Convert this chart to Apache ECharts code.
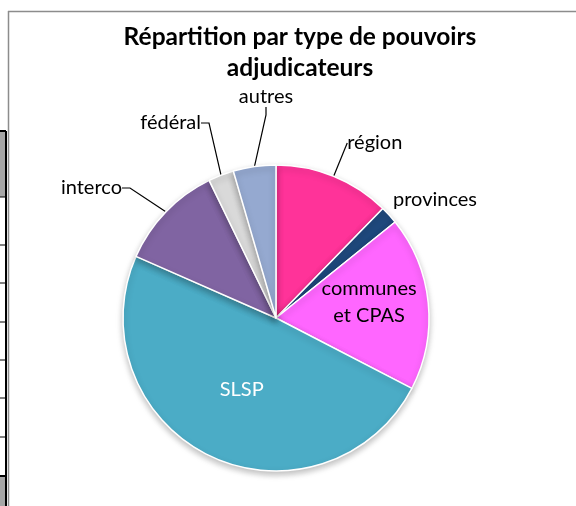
<!DOCTYPE html>
<html>
<head>
  <meta charset="utf-8">
  <title>Répartition par type de pouvoirs adjudicateurs</title>
  <style>
    html, body { margin: 0; padding: 0; background: #fff; }
    #chart { width: 576px; height: 506px; }
  </style>
</head>
<body>
  <div id="chart"></div>
  <script src="https://cdn.jsdelivr.net/npm/echarts@6/dist/echarts.min.js"></script>
  <script>
// données (en %)
var categories = ['région', 'provinces', 'communes\net CPAS', 'SLSP', 'interco', 'fédéral', 'autres'];
var values = [12.3, 1.9, 18.4, 49.0, 11.2, 2.7, 4.5];
var colors = ['#FF3399', '#1F497D', '#FF66FF', '#4BACC6', '#8064A2', '#D9D9D9', '#95A9D0'];
// étiquettes à l'intérieur des parts
var insideLabels = { 'communes\net CPAS': '#000000', 'SLSP': '#FFFFFF' };
// emplacement des étiquettes extérieures (comme dans Excel)
var labelPlaces = {
  1: { x: 393, y: 200, align: 'left' },
  4: { x: 122, y: 188, align: 'right' },
  5: { x: 201, y: 123, align: 'right' },
  6: { x: 266, y: 97, align: 'center' }
};

var dom = document.getElementById('chart');
var myChart = echarts.init(dom);

var pieData = categories.map(function (name, i) {
  var item = { name: name, value: values[i], itemStyle: { color: colors[i] } };
  if (insideLabels[name]) {
    item.label = { position: 'inside', color: insideLabels[name], lineHeight: 27 };
    item.labelLine = { show: false };
  }
  if (name === 'provinces') {
    item.labelLine = { show: false };
  }
  if (name === 'région') {
    // placement standard, trait oblique seul
    item.label = { distanceToLabelLine: 0 };
    item.labelLine = { length: 36, length2: 0 };
  }
  return item;
});

var option = {
  animation: false,
  title: {
    text: 'Répartition par type de pouvoirs\nadjudicateurs',
    left: 295,
    textAlign: 'center',
    top: 17,
    textStyle: {
      fontFamily: 'Lato',
      fontWeight: 'bold',
      fontSize: 24.5,
      lineHeight: 31,
      color: '#000'
    }
  },
  graphic: [
    // cadre du graphique
    { type: 'line', shape: { x1: 8, y1: 11.5, x2: 576, y2: 11.5 }, style: { stroke: '#8c8c8c', lineWidth: 1.5 } },
    { type: 'line', shape: { x1: 8.5, y1: 11, x2: 8.5, y2: 506 }, style: { stroke: '#8c8c8c', lineWidth: 1.5 } },
    // cellules du tableur à gauche
    { type: 'rect', shape: { x: 0, y: 131, width: 6, height: 66 }, style: { fill: '#A6A6A6' } },
    { type: 'rect', shape: { x: 0, y: 476, width: 6, height: 30 }, style: { fill: '#A6A6A6' } },
    { type: 'line', shape: { x1: 6, y1: 131, x2: 6, y2: 506 }, style: { stroke: '#000', lineWidth: 2 } },
    { type: 'line', shape: { x1: 0, y1: 131, x2: 6, y2: 131 }, style: { stroke: '#000', lineWidth: 2 } },
    { type: 'line', shape: { x1: 0, y1: 197, x2: 6, y2: 197 }, style: { stroke: '#000', lineWidth: 1 } },
    { type: 'line', shape: { x1: 0, y1: 245, x2: 6, y2: 245 }, style: { stroke: '#000', lineWidth: 1 } },
    { type: 'line', shape: { x1: 0, y1: 283, x2: 6, y2: 283 }, style: { stroke: '#000', lineWidth: 1 } },
    { type: 'line', shape: { x1: 0, y1: 322, x2: 6, y2: 322 }, style: { stroke: '#000', lineWidth: 1 } },
    { type: 'line', shape: { x1: 0, y1: 360, x2: 6, y2: 360 }, style: { stroke: '#000', lineWidth: 1 } },
    { type: 'line', shape: { x1: 0, y1: 398, x2: 6, y2: 398 }, style: { stroke: '#000', lineWidth: 1 } },
    { type: 'line', shape: { x1: 0, y1: 437, x2: 6, y2: 437 }, style: { stroke: '#000', lineWidth: 1 } },
    { type: 'line', shape: { x1: 0, y1: 476, x2: 6, y2: 476 }, style: { stroke: '#000', lineWidth: 2 } }
  ],
  series: [
    {
      type: 'pie',
      center: [276, 318],
      radius: 153,
      startAngle: 90,
      clockwise: true,
      avoidLabelOverlap: false,
      data: pieData,
      itemStyle: {
        borderColor: '#ffffff',
        borderWidth: 1.5,
        shadowColor: 'rgba(0,0,0,0.25)',
        shadowBlur: 6,
        shadowOffsetY: 3
      },
      label: {
        show: true,
        fontFamily: 'Lato',
        fontSize: 20,
        color: '#000'
      },
      labelLine: {
        show: true,
        length: 18,
        length2: 8,
        lineStyle: { color: '#000', width: 1.2 }
      },
      labelLayout: function (params) {
        if (params.dataIndex === 2) {
          return { dx: 14, dy: -8 };
        }
        var p = labelPlaces[params.dataIndex];
        if (p) {
          return { x: p.x, y: p.y, align: p.align, verticalAlign: 'middle' };
        }
      },
      emphasis: { disabled: true }
    }
  ]
};

if (option && typeof option === 'object') {
  myChart.setOption(option, true);
}
  </script>
</body>
</html>
